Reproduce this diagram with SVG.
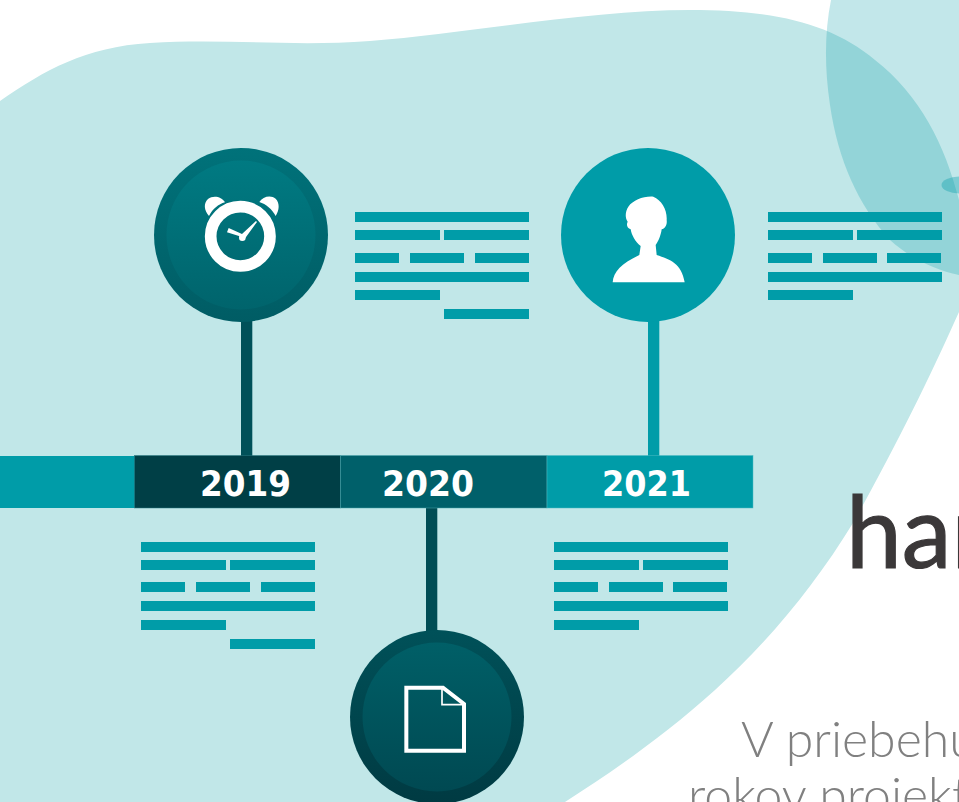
<svg xmlns="http://www.w3.org/2000/svg" width="959" height="802" viewBox="0 0 959 802">
<style>
.ln{fill:#009ca8}
.yr{font-family:"DejaVu Sans",sans-serif;font-weight:700;font-size:35px;fill:#fff;text-anchor:middle}
.ic{fill:#fff}
</style>
<defs>
<linearGradient id="a1" x1="0" y1="0" x2="0" y2="1"><stop offset="0" stop-color="#00727a"/><stop offset="1" stop-color="#005c64"/></linearGradient>
<linearGradient id="a2" x1="0" y1="0" x2="0" y2="1"><stop offset="0" stop-color="#007a82"/><stop offset="1" stop-color="#00646c"/></linearGradient>
<linearGradient id="b1" x1="0" y1="0" x2="0" y2="1"><stop offset="0" stop-color="#005159"/><stop offset="1" stop-color="#003a42"/></linearGradient>
<linearGradient id="b2" x1="0" y1="0" x2="0" y2="1"><stop offset="0" stop-color="#005f67"/><stop offset="1" stop-color="#004952"/></linearGradient>
<g id="t3">
<rect class="ln" width="174" height="10" y="0"/>
<rect class="ln" width="85" height="10" y="18"/><rect class="ln" x="89" width="85" height="10" y="18"/>
<rect class="ln" width="85" height="10" y="78"/>
</g>
</defs>
<g id="background">
<path d="M0,101 C45,70 85,47 150,43 C225,38 290,47 370,41 C470,33 590,10 690,10 C770,10 830,22 875,60 C920,95 945,145 959,200 L975,250 L959,312 C935,365 905,430 853,523 C815,585 770,640 715,690 C665,735 615,770 565,802 L0,802 Z" fill="#c1e7e8"/>
<path d="M831,0 C825,30 824,65 830,105 C838,160 858,205 890,240 C910,258 935,270 959,275 L959,0 Z" fill="#009ca8" fill-opacity=".24"/>
<ellipse cx="960" cy="185" rx="18.500" ry="8.500" fill="#009ca8" fill-opacity=".35"/>
</g>
<g id="connectors">
<rect x="241" y="318" width="11.300" height="140" fill="#005159"/>
<rect x="648" y="318" width="11.300" height="140" fill="#009ca8"/>
<rect x="426" y="506" width="11.300" height="128" fill="#004d55"/>
</g>
<g id="timeline">
<rect x="0" y="456" width="135" height="52" fill="#009ca8"/>
<rect id="bar-2019" x="134.500" y="455.500" width="206" height="52.500" fill="#003f46" stroke="#2d7f86" stroke-width=".5"/>
<rect id="bar-2020" x="340.500" y="455.500" width="206.500" height="52.500" fill="#00606a" stroke="#4aa6ad" stroke-width=".5"/>
<rect id="bar-2021" x="547" y="455.500" width="206" height="52.500" fill="#009ca8" stroke="#4fbcc4" stroke-width=".5"/>
<text class="yr" x="245.500" y="496" textLength="91" lengthAdjust="spacingAndGlyphs">2019</text>
<text class="yr" x="428" y="496" textLength="92" lengthAdjust="spacingAndGlyphs">2020</text>
<text class="yr" x="646.500" y="496" textLength="89" lengthAdjust="spacingAndGlyphs">2021</text>
</g>
<g id="node-2019">
<circle cx="241" cy="235" r="87" fill="url(#a1)"/>
<circle cx="241" cy="235" r="74.500" fill="url(#a2)"/>
<g transform="translate(140,140) scale(.33333)">
<circle cx="301" cy="289" r="89" fill="none" stroke="#fff" stroke-width="35"/>
<path class="ic" d="M207,228 C192,210 190,190 204,177 C220,165 245,170 255,187 C235,193 218,207 207,228 Z"/>
<path class="ic" d="M407,228 C418,210 420,190 407,176 C392,164 368,170 358,186 C378,192 396,207 407,228 Z"/>
<path class="ic" d="M261,277 L266,264 L306,282 L348,243 L351,246 L316,294 Z"/>
<circle class="ic" cx="307" cy="293" r="10"/>
</g>
</g>
<g id="node-2020">
<circle cx="437" cy="717" r="87" fill="url(#b1)"/>
<circle cx="437" cy="717" r="74.500" fill="url(#b2)"/>
<g transform="translate(340,620) scale(.33333)">
<path d="M199,203 H309 L372,252 V392 H199 Z" fill="none" stroke="#fff" stroke-width="12"/>
<path d="M306,205 V254 H370" fill="none" stroke="#fff" stroke-width="5"/>
</g>
</g>
<g id="node-2021">
<circle cx="648" cy="235" r="87" fill="#009ca8"/>
<path class="ic" transform="translate(550,140) scale(.33333)" d="M188,427 C190,395 215,370 268,345 L272,318 C255,305 245,285 242,268 C232,265 228,255 233,245 C225,235 225,215 235,200 C250,180 280,168 310,170 C335,180 352,210 350,240 C352,255 345,265 335,268 C333,285 325,305 317,315 L320,345 C360,358 395,370 404,427 Z"/>
</g>
<g id="text-2019-a">
<use href="#t3" x="355" y="212"/>
<rect class="ln" x="355" y="253" width="44" height="10"/><rect class="ln" x="410" y="253" width="54" height="10"/><rect class="ln" x="475" y="253" width="54" height="10"/>
<rect class="ln" x="355" y="272" width="174" height="10"/>
<rect class="ln" x="444" y="309" width="85" height="10"/>
</g>
<g id="text-2021-a">
<use href="#t3" x="768" y="212"/>
<rect class="ln" x="768" y="253" width="44" height="10"/><rect class="ln" x="823" y="253" width="54" height="10"/><rect class="ln" x="887" y="253" width="54" height="10"/>
<rect class="ln" x="768" y="272" width="174" height="10"/>
</g>
<g id="text-2019-b">
<use href="#t3" x="141" y="542"/>
<rect class="ln" x="141" y="582" width="44" height="10"/><rect class="ln" x="196" y="582" width="54" height="10"/><rect class="ln" x="261" y="582" width="54" height="10"/>
<rect class="ln" x="141" y="601" width="174" height="10"/>
<rect class="ln" x="230" y="639" width="85" height="10"/>
</g>
<g id="text-2021-b">
<use href="#t3" x="554" y="542"/>
<rect class="ln" x="554" y="582" width="44" height="10"/><rect class="ln" x="609" y="582" width="54" height="10"/><rect class="ln" x="673" y="582" width="54" height="10"/>
<rect class="ln" x="554" y="601" width="174" height="10"/>
</g>
<g id="copy">
<text x="846" y="568" font-family="Lato,'Open Sans',sans-serif" font-size="100" fill="#3b3839" stroke="#3b3839" stroke-width="1.200">har</text>
<text x="741" y="757" font-family="Lato,'Open Sans',sans-serif" font-weight="300" font-size="50" fill="#808080">V priebehu</text>
<text x="688" y="813" font-family="Lato,'Open Sans',sans-serif" font-weight="300" font-size="50" fill="#808080">rokov projekt</text>
</g>
</svg>
